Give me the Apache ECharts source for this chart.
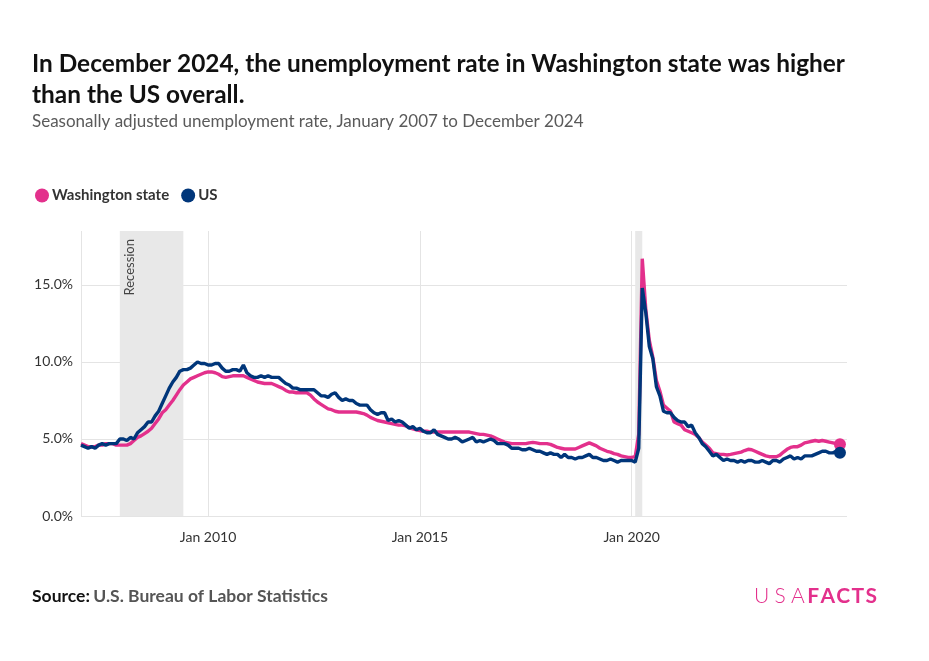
<!DOCTYPE html>
<html>
<head>
<meta charset="utf-8">
<script src="https://cdn.jsdelivr.net/npm/echarts@6/dist/echarts.min.js"></script>
<style>
html,body{margin:0;padding:0;background:#fff;}
#c{width:929px;height:661px;}
</style>
</head>
<body>
<div id="c"></div>
<script>
// Months since January 2007 (0 = Jan 2007 ... 215 = Dec 2024)
const startYear = 2007;
const tickMonths = [0, 36, 96, 156];
const labelMonths = [36, 96, 156];
const yTicks = [0, 5, 10, 15];
const recessions = [[11, 29], [157, 159]];

const washington = [
  // 2007
  4.7,4.6,4.5,4.5,4.5,4.6,4.6,4.7,4.7,4.7,4.6,4.6,
  // 2008
  4.6,4.6,4.7,4.9,5.1,5.2,5.35,5.5,5.7,6.0,6.3,6.7,
  // 2009
  6.9,7.2,7.5,7.85,8.2,8.5,8.7,8.9,9.0,9.1,9.2,9.3,
  // 2010
  9.35,9.35,9.3,9.2,9.05,9.0,9.05,9.1,9.1,9.1,9.1,9.0,
  // 2011
  8.9,8.8,8.7,8.65,8.6,8.6,8.6,8.5,8.4,8.3,8.15,8.05,
  // 2012
  8.05,8.0,8.0,8.0,8.0,7.85,7.6,7.4,7.25,7.1,6.95,6.9,
  // 2013
  6.8,6.75,6.75,6.75,6.75,6.75,6.75,6.7,6.65,6.55,6.4,6.3,
  // 2014
  6.2,6.15,6.1,6.05,6.0,5.95,5.9,5.9,5.85,5.75,5.65,5.6,
  // 2015
  5.55,5.5,5.5,5.45,5.45,5.45,5.45,5.45,5.45,5.45,5.45,5.45,
  // 2016
  5.45,5.45,5.45,5.4,5.35,5.3,5.3,5.25,5.2,5.1,5.0,4.9,
  // 2017
  4.8,4.75,4.7,4.7,4.7,4.7,4.7,4.75,4.78,4.75,4.7,4.7,
  // 2018
  4.7,4.65,4.55,4.45,4.4,4.35,4.35,4.35,4.35,4.45,4.55,4.65,
  // 2019
  4.75,4.65,4.55,4.4,4.3,4.2,4.15,4.05,4.0,3.9,3.85,3.8,
  // 2020
  3.8,3.85,5.3,16.7,13.4,11.4,10.3,8.8,8.1,7.2,7.0,6.8,
  // 2021
  6.1,6.0,5.9,5.6,5.5,5.4,5.3,5.1,4.8,4.6,4.4,4.1,
  // 2022
  4.05,4.0,4.0,3.96,4.0,4.05,4.1,4.15,4.25,4.33,4.3,4.2,
  // 2023
  4.1,4.0,3.9,3.85,3.85,3.85,3.95,4.15,4.33,4.45,4.5,4.5,
  // 2024
  4.6,4.75,4.8,4.85,4.9,4.85,4.9,4.85,4.8,4.75,4.7,4.65
];

const us = [
  // 2007
  4.6,4.5,4.4,4.5,4.4,4.6,4.7,4.6,4.7,4.7,4.7,5.0,
  // 2008
  5.0,4.9,5.1,5.0,5.4,5.6,5.8,6.1,6.1,6.5,6.8,7.3,
  // 2009
  7.8,8.3,8.7,9.0,9.4,9.5,9.5,9.6,9.8,10.0,9.9,9.9,
  // 2010
  9.8,9.8,9.9,9.9,9.6,9.4,9.4,9.5,9.5,9.4,9.8,9.3,
  // 2011
  9.1,9.0,9.0,9.1,9.0,9.1,9.0,9.0,9.0,8.8,8.6,8.5,
  // 2012
  8.3,8.3,8.2,8.2,8.2,8.2,8.2,8.0,7.8,7.8,7.7,7.9,
  // 2013
  8.0,7.7,7.5,7.6,7.5,7.5,7.3,7.2,7.2,7.2,6.9,6.7,
  // 2014
  6.6,6.7,6.7,6.2,6.3,6.1,6.2,6.1,5.9,5.7,5.8,5.6,
  // 2015
  5.7,5.5,5.4,5.4,5.6,5.3,5.2,5.1,5.0,5.0,5.1,5.0,
  // 2016
  4.8,4.9,5.0,5.1,4.8,4.9,4.8,4.9,5.0,4.9,4.7,4.7,
  // 2017
  4.7,4.6,4.4,4.4,4.4,4.3,4.3,4.4,4.3,4.2,4.2,4.1,
  // 2018
  4.0,4.1,4.0,4.0,3.8,4.0,3.8,3.8,3.7,3.8,3.8,3.9,
  // 2019
  4.0,3.8,3.8,3.7,3.6,3.6,3.7,3.6,3.5,3.6,3.6,3.6,
  // 2020
  3.6,3.5,4.4,14.8,13.2,11.0,10.2,8.4,7.8,6.8,6.7,6.7,
  // 2021
  6.4,6.2,6.1,6.1,5.8,5.9,5.4,5.1,4.7,4.5,4.2,3.9,
  // 2022
  4.0,3.8,3.6,3.7,3.6,3.6,3.5,3.6,3.5,3.6,3.6,3.5,
  // 2023
  3.5,3.6,3.5,3.4,3.6,3.6,3.5,3.7,3.8,3.9,3.7,3.8,
  // 2024
  3.7,3.9,3.9,3.9,4.0,4.1,4.2,4.2,4.1,4.1,4.2,4.1
];

const PINK = '#E3308C';
const BLUE = '#00367A';
const FONT = 'Lato, "Noto Sans", sans-serif';

const toPairs = arr => arr.map((v, i) => [i, v]);
const lastIdx = us.length - 1;

const chart = echarts.init(document.getElementById('c'), null, {renderer: 'canvas'});

const option = {
  animation: false,
  backgroundColor: '#fff',
  textStyle: {fontFamily: FONT},
  grid: {left: 81, right: 82, top: 231, bottom: 145, containLabel: false},
  legend: {
    left: 30, top: 183,
    icon: 'circle', itemWidth: 14, itemHeight: 14, itemGap: 12,
    textStyle: {fontFamily: FONT, fontWeight: 'bold', fontSize: 15, color: '#333', padding: [0,0,0,-2]},
    data: ['Washington state', 'US']
  },
  xAxis: {
    type: 'value', min: 0, max: 217,
    axisLine: {show: false},
    axisTick: {show: false, customValues: tickMonths},
    axisLabel: {
      customValues: labelMonths, color: '#333', fontSize: 14, margin: 14, fontFamily: FONT,
      formatter: v => 'Jan ' + (startYear + Math.round(v / 12))
    },
    splitLine: {show: true, lineStyle: {color: '#e4e4e4', width: 1}}
  },
  yAxis: {
    type: 'value', min: 0, max: 18.5,
    axisLine: {show: false},
    axisTick: {show: false, customValues: yTicks},
    axisLabel: {
      customValues: yTicks, color: '#333', fontSize: 14, margin: 8, fontFamily: FONT,
      formatter: v => v.toFixed(1) + '%'
    },
    splitLine: {show: true, lineStyle: {color: '#e4e4e4', width: 1}}
  },
  series: [
    {
      name: 'Washington state', type: 'line', data: toPairs(washington),
      showSymbol: false, symbol: 'circle', color: PINK,
      lineStyle: {width: 3.4, color: PINK}, z: 3,
      markArea: {
        silent: true,
        itemStyle: {color: '#e8e8e8'},
        data: recessions.map(r => [{xAxis: r[0]}, {xAxis: r[1]}])
      }
    },
    {
      name: 'US', type: 'line', data: toPairs(us),
      showSymbol: false, symbol: 'circle', color: BLUE,
      lineStyle: {width: 3.4, color: BLUE}, z: 4
    },
    {
      name: 'WA end', type: 'scatter', symbolSize: 12, z: 5,
      itemStyle: {color: PINK, opacity: 1},
      data: [[lastIdx, washington[lastIdx]]]
    },
    {
      name: 'US end', type: 'scatter', symbolSize: 12, z: 6,
      itemStyle: {color: BLUE, opacity: 1},
      data: [[lastIdx, us[lastIdx]]]
    }
  ]
};
chart.setOption(option);

// Rotated "Recession" label inside the first recession band
let p = chart.convertToPixel({gridIndex: 0}, [recessions[0][0], 18.5]);
if (!p || isNaN(p[0]) || isNaN(p[1])) { p = [120, 231]; }
chart.setOption({
  graphic: [
    {type: 'text', left: 32, top: 49, style: {
      text: 'In December 2024, the unemployment rate in Washington state was higher\nthan the US overall.',
      fontFamily: FONT, fontWeight: 'bold', fontSize: 24.4, lineHeight: 30.5, fill: '#111'}},
    {type: 'text', left: 32, top: 113, style: {
      text: 'Seasonally adjusted unemployment rate, January 2007 to December 2024',
      fontFamily: FONT, fontSize: 17, fill: '#5a5a5a'}},
    {type: 'text', left: 32, top: 587, style: {
      rich: {a: {fontFamily: FONT, fontWeight: 'bold', fontSize: 17.5, fill: '#111'},
             b: {fontFamily: FONT, fontWeight: 'bold', fontSize: 17.5, fill: '#555'}},
      text: '{a|Source:} {b|U.S. Bureau of Labor Statistics}'}},
    {type: 'text', right: 52, top: 586, style: {
      rich: {a: {fontFamily: FONT, fontWeight: 300, fontSize: 21, fill: PINK},
             b: {fontFamily: FONT, fontWeight: 'bold', fontSize: 21, fill: PINK}},
      text: '{a|U\u2009\u2009S\u2009\u2009A\u2009}{b|F\u200AA\u200AC\u200AT\u200AS}'}},
    {type: 'text', x: p[0] + 9.5, y: p[1] + 8, rotation: Math.PI / 2, z: 100,
     style: {text: 'Recession', fontFamily: FONT, fontSize: 13, fill: '#444',
             align: 'right', verticalAlign: 'middle'}}
  ]
});
</script>
</body>
</html>
